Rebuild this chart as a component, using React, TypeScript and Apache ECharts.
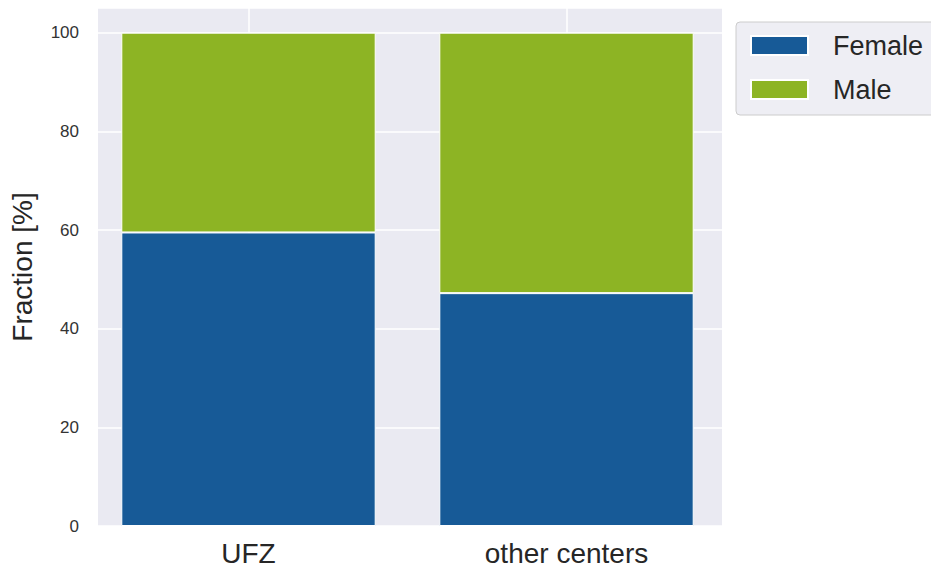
import React, { useEffect, useRef } from "react";
import * as echarts from "echarts";

const categories = ["UFZ", "other centers"];
const female = [59.5, 47.2];
const male = [40.5, 52.8];
const yTicks = [0, 20, 40, 60, 80, 100];
const gridSlots = ["", "", "", "", ""];

export default function App() {
  const ref = useRef<HTMLDivElement>(null);
  useEffect(() => {
    if (!ref.current) return;
    const chart = echarts.init(ref.current, undefined, { renderer: "svg" });
    const font = "Liberation Sans, Arial, sans-serif";
    const yBase = { type: "value", min: 0, max: 105, interval: 20 };
    chart.setOption({
      animation: false,
      backgroundColor: "#ffffff",
      textStyle: { fontFamily: font },
      grid: [
        { left: 95, right: 209, top: 8, bottom: 41, show: true, backgroundColor: "#eaeaf2", borderWidth: 0 },
        { left: 89.5, right: 205.5, top: 8, bottom: 41, show: false },
      ],
      legend: {
        orient: "vertical",
        left: 736,
        top: 22,
        data: ["Female", "Male"],
        itemWidth: 57,
        itemHeight: 19,
        itemGap: 17,
        icon: "rect",
        padding: [10, 20, 12, 14],
        backgroundColor: "#eeeef4",
        borderColor: "#cccccc",
        borderWidth: 1,
        borderRadius: 4,
        textStyle: { fontSize: 27, color: "#262626", fontFamily: font, lineHeight: 26, padding: [0, 0, 0, 20] },
      },
      xAxis: [
        { type: "value", gridIndex: 0, show: false, min: 0, max: 1, splitLine: { show: false } },
        {
          type: "category",
          gridIndex: 1,
          data: categories,
          axisLine: { show: false },
          axisTick: { show: false },
          splitLine: { show: false },
          axisLabel: { fontSize: 28, color: "#262626", margin: 13, fontFamily: font },
        },
        {
          type: "category",
          gridIndex: 1,
          data: gridSlots,
          boundaryGap: false,
          axisLine: { show: false },
          axisTick: { show: false },
          axisLabel: { show: false },
          splitLine: {
            show: true,
            interval: (i: number) => i === 1 || i === 3,
            lineStyle: { color: "#ffffff", width: 1.5 },
          },
        },
      ],
      yAxis: [
        {
          ...yBase,
          gridIndex: 0,
          name: "Fraction [%]",
          nameLocation: "middle",
          nameGap: 62,
          nameTextStyle: { fontSize: 28, color: "#262626", fontFamily: font },
          axisLine: { show: false },
          axisTick: { show: false },
          axisLabel: {
            fontSize: 17,
            color: "#333333",
            margin: 19,
            fontFamily: font,
            formatter: (v: number) => (yTicks.includes(v) ? String(v) : ""),
          },
          splitLine: { show: true, lineStyle: { color: "#ffffff", width: 1.5 } },
        },
        { ...yBase, gridIndex: 1, show: false, splitLine: { show: false } },
      ],
      series: [
        {
          name: "Female",
          type: "bar",
          stack: "total",
          xAxisIndex: 1,
          yAxisIndex: 1,
          barWidth: "80%",
          z: 2,
          data: female,
          itemStyle: { color: "#175a97", borderColor: "#ffffff", borderWidth: 1 },
        },
        {
          name: "Male",
          type: "bar",
          stack: "total",
          xAxisIndex: 1,
          yAxisIndex: 1,
          barWidth: "80%",
          z: 2,
          data: male,
          itemStyle: { color: "#8db424", borderColor: "#ffffff", borderWidth: 1 },
        },
      ],
    });
    return () => chart.dispose();
  }, []);
  return <div ref={ref} style={{ position: "fixed", left: 0, top: 0, width: 931, height: 567 }} />;
}
